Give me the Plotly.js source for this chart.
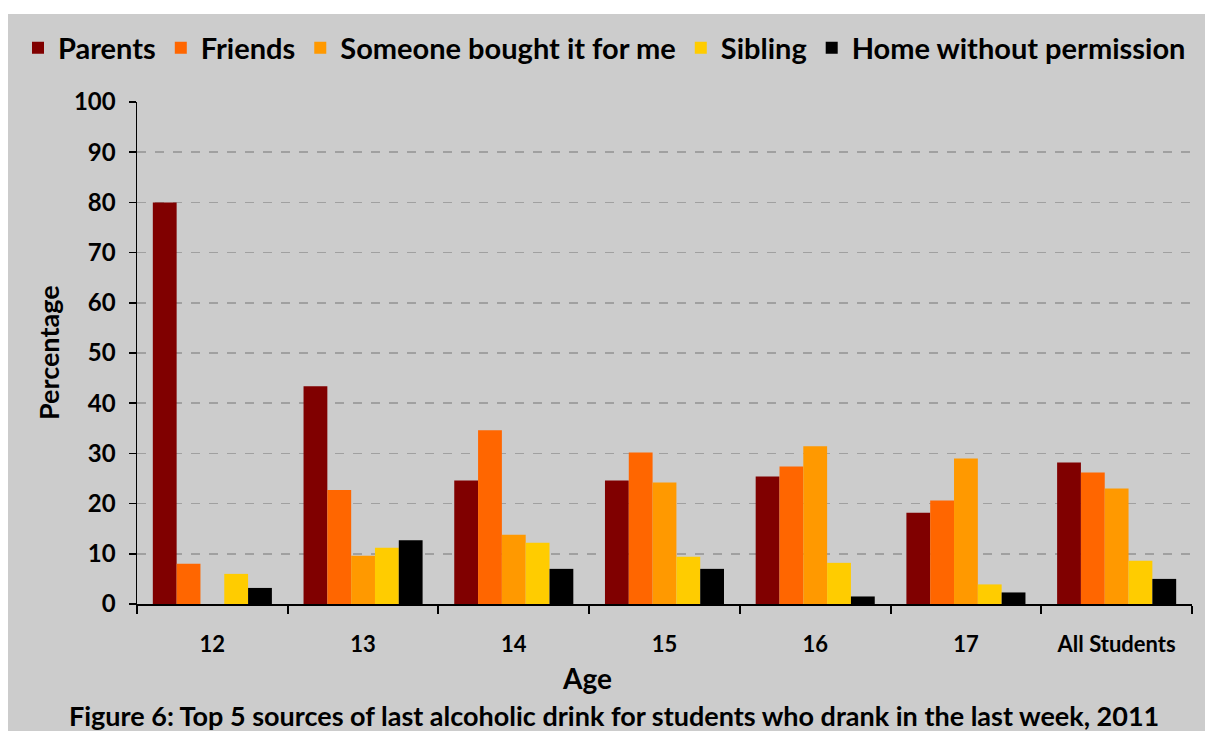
<!DOCTYPE html>
<html>
<head>
<meta charset="utf-8">
<script src="https://cdn.plot.ly/plotly-3.0.1.min.js"></script>
<style>
html, body { margin: 0; padding: 0; background: #ffffff; overflow: hidden; }
#chart { position: absolute; left: 8px; top: 14px; width: 1197px; height: 717px; }
</style>
</head>
<body>
<div id="chart"></div>
<script>
const categories = ["12", "13", "14", "15", "16", "17", "All Students"];
const seriesNames = ["Parents", "Friends", "Someone bought it for me", "Sibling", "Home without permission"];
const parents  = [80.0, 43.4, 24.6, 24.6, 25.4, 18.2, 28.2];
const friends  = [8.0, 22.7, 34.6, 30.2, 27.4, 20.6, 26.2];
const someone  = [null, 9.6, 13.8, 24.2, 31.4, 29.0, 23.0];
const sibling  = [6.0, 11.2, 12.2, 9.4, 8.2, 3.9, 8.6];
const home     = [3.2, 12.7, 7.0, 7.0, 1.5, 2.3, 5.0];
const colors = ["#800000", "#ff6600", "#ff9900", "#ffcc00", "#000000"];
const yTicks = [0, 10, 20, 30, 40, 50, 60, 70, 80, 90, 100];

const FONT = "Lato, 'Open Sans', sans-serif";
const W = 1197, H = 717;
const M = { l: 129, r: 13, t: 88, b: 127, autoexpand: false };
const PW = W - M.l - M.r, PH = H - M.t - M.b;

const seriesValues = [parents, friends, someone, sibling, home];
const traces = seriesValues.map((vals, i) => ({
  type: "bar",
  name: seriesNames[i],
  x: categories,
  y: vals,
  marker: { color: colors[i], line: { width: 0 } },
  hoverinfo: "x+y+name"
}));

const layout = {
  width: W,
  height: H,
  paper_bgcolor: "#cccccc",
  plot_bgcolor: "#cccccc",
  margin: M,
  barmode: "group",
  bargap: 0.21,
  bargroupgap: 0,
  font: { family: FONT, color: "#000000" },
  showlegend: true,
  legend: {
    orientation: "h",
    xref: "paper", yref: "paper",
    x: (10 - M.l) / PW, y: 1 + (M.t - 34) / PH,
    xanchor: "left", yanchor: "middle",
    font: { family: FONT, size: 29, color: "#000000", weight: "bold" },
    bgcolor: "rgba(0,0,0,0)",
    itemwidth: 30,
    tracegroupgap: 0,
    traceorder: "normal"
  },
  xaxis: {
    type: "category",
    range: [-0.5, 6.5],
    autorange: false,
    showline: true, linecolor: "#000000", linewidth: 2,
    ticks: "outside", ticklen: 8, tickcolor: "#000000", tickwidth: 2,
    tickson: "boundaries",
    tickangle: 0,
    ticklabelstandoff: 20,
    tickfont: { family: FONT, size: 22, color: "#000000", weight: "bold" },
    showgrid: false,
    zeroline: false,
    fixedrange: true
  },
  yaxis: {
    range: [0, 100],
    autorange: false,
    tickvals: yTicks,
    ticktext: yTicks.map(String),
    showline: true, linecolor: "#000000", linewidth: 1.5,
    ticks: "outside", ticklen: 7, tickcolor: "#000000", tickwidth: 1.5,
    ticklabelstandoff: 8,
    tickfont: { family: FONT, size: 24, color: "#000000", weight: "bold" },
    showgrid: true, gridcolor: "#a0a0a0", gridwidth: 1.5, griddash: "dash",
    zeroline: false,
    fixedrange: true
  },
  annotations: [
    {
      text: "Percentage", xref: "paper", yref: "paper", x: 0, y: 0.5,
      xshift: -89, textangle: -90, showarrow: false,
      xanchor: "center", yanchor: "middle",
      font: { family: FONT, size: 27, color: "#000000", weight: "bold" }
    },
    {
      text: "Age", xref: "paper", yref: "paper", x: (579 - M.l) / PW, y: 0,
      yshift: -74, showarrow: false, xanchor: "center", yanchor: "middle",
      font: { family: FONT, size: 28, color: "#000000", weight: "bold" }
    },
    {
      text: "Figure 6: Top 5 sources of last alcoholic drink for students who drank in the last week, 2011",
      xref: "paper", yref: "paper", x: (605.5 - M.l) / PW, y: 0,
      yshift: -111, showarrow: false, xanchor: "center", yanchor: "middle",
      font: { family: FONT, size: 27, color: "#000000", weight: "bold" }
    }
  ]
};

Plotly.newPlot("chart", traces, layout, { displayModeBar: false, staticPlot: true });
</script>
</body>
</html>
